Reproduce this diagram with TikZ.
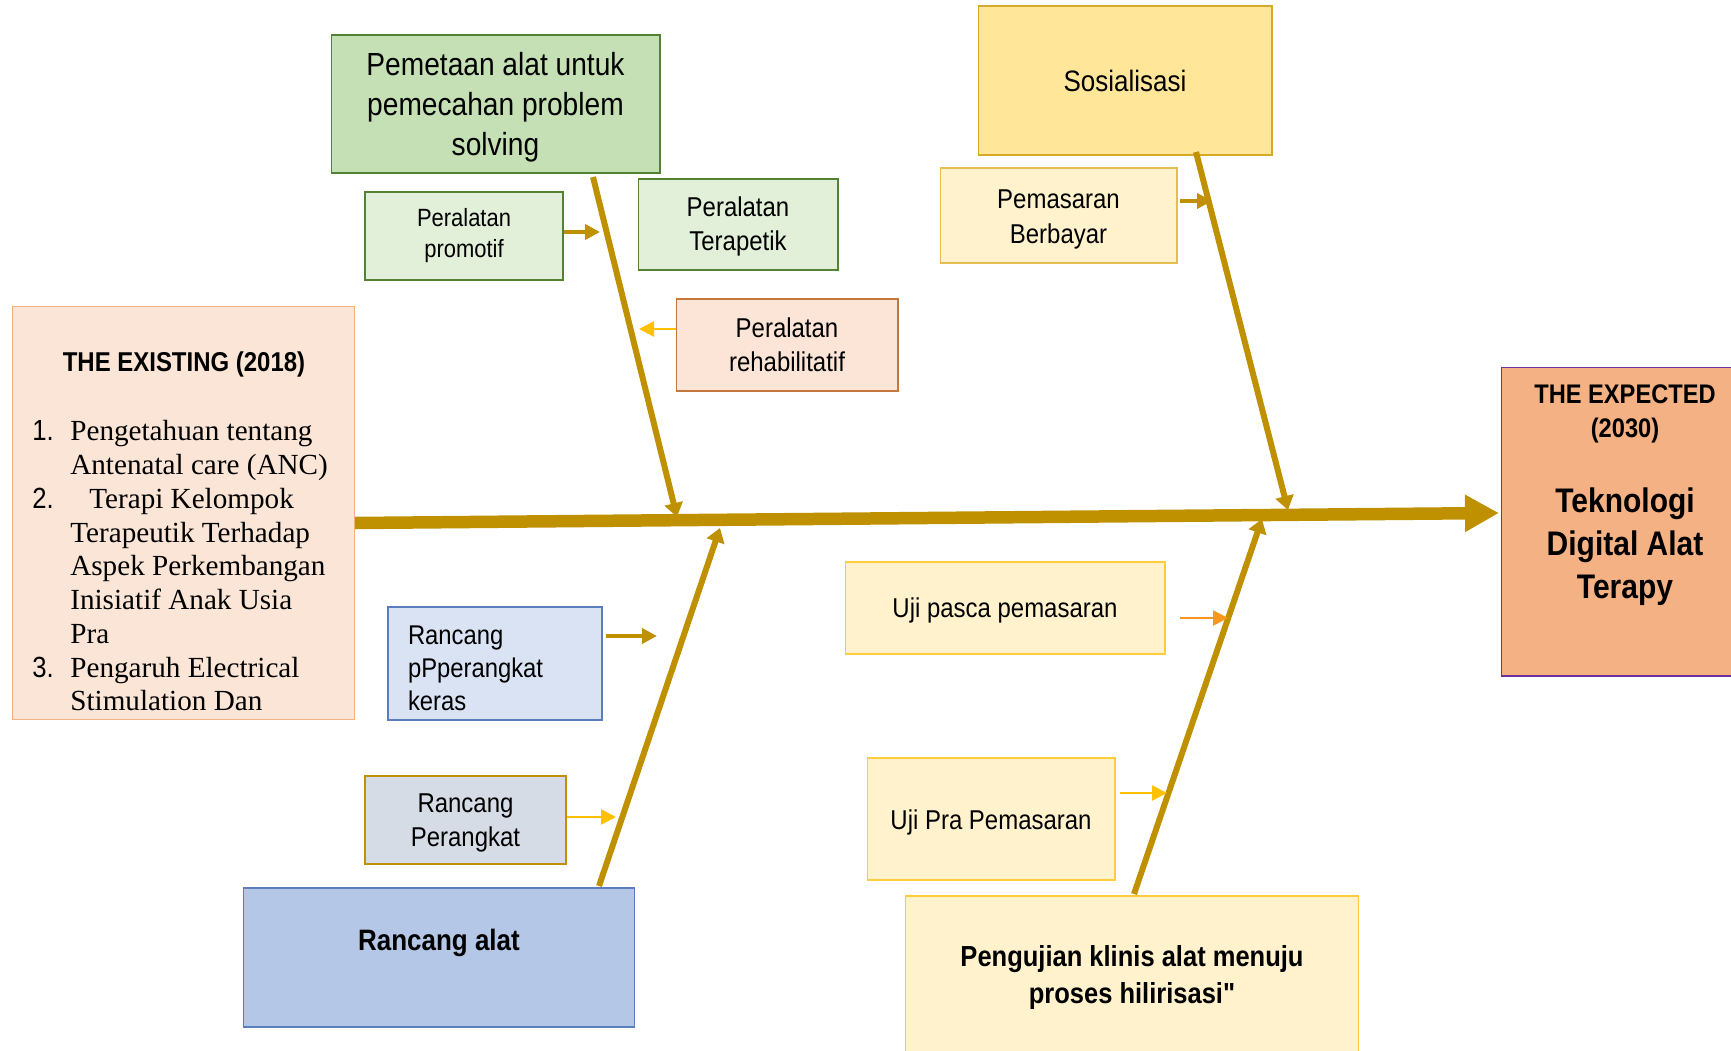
\documentclass[tikz,border=0pt]{standalone}
\usepackage{fontspec}
\setmainfont{Liberation Serif}
\newfontfamily\narrowsf[FakeStretch=0.88]{Liberation Sans}
\usepackage{tikz}
\usetikzlibrary{arrows.meta}
\usepackage[dvipsnames]{xcolor}

\definecolor{bonegold}{RGB}{191,144,0}
\definecolor{yellowarr}{RGB}{255,192,0}
\definecolor{orangearr}{RGB}{250,150,30}
\definecolor{existfill}{RGB}{251,229,214}
\definecolor{existline}{RGB}{244,177,131}
\definecolor{expectfill}{RGB}{244,177,131}
\definecolor{expectline}{RGB}{112,48,160}
\definecolor{greenfill}{RGB}{197,224,180}
\definecolor{lightgreen}{RGB}{226,240,217}
\definecolor{greenline}{RGB}{84,130,53}
\definecolor{rehabfill}{RGB}{252,229,214}
\definecolor{rehabline}{RGB}{197,120,60}
\definecolor{sosfill}{RGB}{255,230,153}
\definecolor{sosline}{RGB}{214,170,40}
\definecolor{creamfill}{RGB}{255,242,204}
\definecolor{creamline}{RGB}{255,205,60}
\definecolor{pasarline}{RGB}{230,190,80}
\definecolor{bluefill}{RGB}{218,227,243}
\definecolor{blueline}{RGB}{90,125,190}
\definecolor{greyfill}{RGB}{214,220,229}
\definecolor{alatfill}{RGB}{180,199,231}

\newcommand{\fsize}[2]{\fontsize{#1}{#2}\selectfont}

\begin{document}
\begin{tikzpicture}[x=0.02cm, y=-0.02cm,
        box/.style={draw, line width=0.6pt, inner sep=0pt, align=flush center, font=\narrowsf\fsize{15.5pt}{19.3pt}},
        textdown/.style={execute at begin node={\rule{0pt}{\dimexpr\fontcharht\font`A+#1\relax}}},
        spine/.style={draw=bonegold, line width=0.25cm, -{Triangle[length=0.68cm,width=0.7cm]}},
        bone/.style={draw=bonegold, line width=0.12cm, -{Triangle[length=0.28cm,width=0.36cm]}},
        goldarrow/.style={draw=bonegold, line width=0.08cm, -{Triangle[length=0.3cm,width=0.3cm]}},
        thinarrow/.style={draw=yellowarr, line width=0.05cm, -{Triangle[length=0.3cm,width=0.3cm]}}
    ]
        \useasboundingbox (0,0) rectangle (1731,1051);

        \node[box, fill=existfill, draw=existline, minimum width=6.86cm, minimum height=8.28cm] (existing) at (183.5,513) {};
        \node[font=\narrowsf\bfseries\fsize{15.5pt}{19pt}] (existinghead) at (184,364.5) {THE EXISTING (2018)};
        \node[anchor=north west, inner sep=0pt, font=\fsize{16.6pt}{19.2pt}] (existinglist) at (32,417) {%
            \begin{tabular}{@{}p{0.76cm}@{}l@{}}
                {\narrowsf 1.} & Pengetahuan tentang\\
                 & Antenatal care (ANC)\\
                {\narrowsf 2.} & \hspace{0.38cm}Terapi Kelompok\\
                 & Terapeutik Terhadap\\
                 & Aspek Perkembangan\\
                 & Inisiatif Anak Usia\\
                 & Pra\\
                {\narrowsf 3.} & Pengaruh Electrical\\
                 & Stimulation Dan
            \end{tabular}};

        \node[box, fill=expectfill, draw=expectline, minimum width=4.98cm, minimum height=6.18cm] (expected) at (1625.5,521.5) {};
        \node[align=center, font=\narrowsf\bfseries\fsize{15.3pt}{19.3pt}] (expectedhead) at (1625,414) {THE EXPECTED\\(2030)};
        \node[align=center, font=\narrowsf\bfseries\fsize{19.4pt}{24.5pt}] (expectedmain) at (1625,547) {Teknologi\\Digital Alat\\Terapy};

        \node[box, textdown=4.6pt, fill=greenfill, draw=greenline, text width=6.58cm, minimum height=2.76cm, font=\narrowsf\fsize{18.2pt}{22.8pt}] (pemetaan) at (495.5,104) {Pemetaan alat untuk\\pemecahan problem\\solving};
        \node[box, fill=lightgreen, draw=greenline, minimum width=3.96cm, minimum height=1.76cm, font=\narrowsf\fsize{14.2pt}{17.6pt}] (promotif) at (464,236) {Peralatan\\promotif};
        \node[box, textdown=3.1pt, fill=lightgreen, draw=greenline, text width=4.0cm, minimum height=1.82cm] (terapetik) at (738,224.5) {Peralatan\\Terapetik};
        \node[box, fill=rehabfill, draw=rehabline, minimum width=4.44cm, minimum height=1.84cm] (rehab) at (787,345) {Peralatan\\rehabilitatif};

        \node[box, fill=sosfill, draw=sosline, minimum width=5.88cm, minimum height=2.98cm, font=\narrowsf\fsize{16.8pt}{20pt}] (sosialisasi) at (1125,80.5) {Sosialisasi};
        \node[box, textdown=4.4pt, fill=creamfill, draw=pasarline, text width=4.74cm, minimum height=1.9cm, font=\narrowsf\fsize{15.5pt}{19.9pt}] (pemasaran) at (1058.5,215.5) {Pemasaran\\Berbayar};

        \node[box, textdown=5pt, fill=bluefill, draw=blueline, align=left, text width=3.48cm, inner xsep=0.4cm, minimum height=2.26cm, font=\narrowsf\fsize{15.4pt}{18.8pt}] (keras) at (495,663.5) {Rancang\\pPperangkat\\keras};
        \node[box, textdown=3.8pt, fill=greyfill, draw=bonegold, text width=4.02cm, minimum height=1.76cm] (perangkat) at (465.5,820) {Rancang\\Perangkat};
        \node[box, fill=alatfill, draw=blueline, minimum width=7.84cm, minimum height=2.78cm] (alat) at (439,957.5) {};
        \node[font=\narrowsf\bfseries\fsize{16.8pt}{20pt}] (alattext) at (439,943) {Rancang alat};

        \node[box, textdown=3.8pt, fill=creamfill, draw=creamline, minimum width=6.4cm, minimum height=1.84cm] (pasca) at (1005,608) {Uji pasca pemasaran};
        \node[box, textdown=5pt, fill=creamfill, draw=creamline, minimum width=4.96cm, minimum height=2.44cm] (pra) at (991,819) {Uji Pra Pemasaran};
        \node[box, textdown=2.5pt, fill=creamfill, draw=creamline, text width=9.08cm, minimum height=3.18cm, font=\narrowsf\bfseries\fsize{16.5pt}{21pt}] (pengujian) at (1132,975.5) {Pengujian klinis alat menuju\\proses hilirisasi"};

        \coordinate (spinestart) at (355,523);
        \coordinate (spineend) at (1499,513);
        \coordinate (boneA1) at (593,177);
        \coordinate (boneA2) at (677,517);
        \coordinate (boneB1) at (1196,152);
        \coordinate (boneB2) at (1288,510);
        \coordinate (boneC1) at (599,886);
        \coordinate (boneC2) at (720,528);
        \coordinate (boneD1) at (1134,894);
        \coordinate (boneD2) at (1262,519);

        \coordinate (tipA) at (600,232);
        \coordinate (tipB) at (639,329);
        \coordinate (tipC) at (1212,201);
        \coordinate (tipD) at (657,636);
        \coordinate (tipE) at (616,817);
        \coordinate (tipF) at (1228,618);
        \coordinate (tipG) at (1167,793);

        \path [spine] (spinestart) -- (spineend);
        \path [bone] (boneA1) -- (boneA2);
        \path [bone] (boneB1) -- (boneB2);
        \path [bone] (boneC1) -- (boneC2);
        \path [bone] (boneD1) -- (boneD2);

        \path [goldarrow] (promotif.east |- tipA) -- (tipA);
        \path [thinarrow] (rehab.west |- tipB) -- (tipB);
        \path [goldarrow, shorten <=0.04cm] (pemasaran.east |- tipC) -- (tipC);
        \path [goldarrow, shorten <=0.06cm] (keras.east |- tipD) -- (tipD);
        \path [thinarrow] (perangkat.east |- tipE) -- (tipE);
        \path [thinarrow, draw=orangearr, shorten <=0.28cm] (pasca.east |- tipF) -- (tipF);
        \path [thinarrow, shorten <=0.08cm] (pra.east |- tipG) -- (tipG);
    \end{tikzpicture}
\end{document}
